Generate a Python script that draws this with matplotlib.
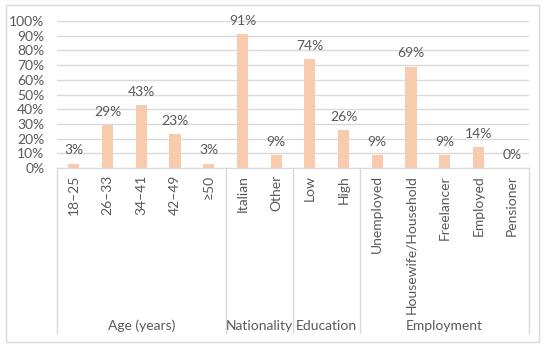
import matplotlib
matplotlib.use("Agg")
import matplotlib.pyplot as plt
from matplotlib.patches import Rectangle
import matplotlib.transforms as mtransforms

categories = ["18\u201325", "26\u201333", "34\u201341", "42\u201349", "\u226550",
              "Italian", "Other",
              "Low", "High",
              "Unemployed", "Housewife/Household", "Freelancer", "Employed", "Pensioner"]
values = [3, 29, 43, 23, 3, 91, 9, 74, 26, 9, 69, 9, 14, 0]
groups = ["Age (years)", "Nationality", "Education", "Employment"]
group_sizes = [5, 2, 2, 5]

plt.rcParams['font.family'] = ['Lato', 'DejaVu Sans']
TXT = "#595959"
GRID = "#D9D9D9"
BAR = "#F8CBAD"
FS = 10

W, H = 550, 346
fig = plt.figure(figsize=(W / 100, H / 100), dpi=100)
fig.patches.append(Rectangle((6 / W, 1 - 342 / H), 533 / W, 337 / H, transform=fig.transFigure,
                             facecolor="white", edgecolor=GRID, linewidth=1.0, zorder=-1))

x0, x1, ytop, ybot = 57, 529, 21, 168
ax = fig.add_axes([x0 / W, 1 - ybot / H, (x1 - x0) / W, (ybot - ytop) / H])
ax.patch.set_alpha(0)

xs = list(range(len(categories)))
fracs = [v / 100 for v in values]
ax.bar(xs, fracs, width=0.33, color=BAR, zorder=2)
for x, f, v in zip(xs, fracs, values):
    ax.annotate(f"{v}%", (x, f), xytext=(0, 9.5), textcoords="offset points",
                ha="center", va="center", fontsize=FS, color=TXT)

ax.set_xlim(-0.5, len(categories) - 0.5)
ax.set_ylim(0, 1)
ax.set_yticks([i / 10 for i in range(11)])
ax.set_yticklabels([f"{i * 10}%" for i in range(11)])
ax.yaxis.grid(True, color=GRID, linewidth=1.0, zorder=0)
ax.set_axisbelow(True)
for s in ["top", "right", "left"]:
    ax.spines[s].set_visible(False)
ax.spines["bottom"].set_color(GRID)
ax.tick_params(axis="y", length=0, pad=9, labelsize=FS, labelcolor=TXT)
ax.set_xticks(xs)
ax.set_xticklabels(categories, rotation=90, va="top")
ax.tick_params(axis="x", length=0, pad=5, labelsize=FS, labelcolor=TXT)

trans = mtransforms.blended_transform_factory(ax.transData, ax.transAxes)
ylow = -(333 - ybot) / (ybot - ytop)
ylab = -(326 - ybot) / (ybot - ytop)
bounds = [-0.5]
for g in group_sizes:
    bounds.append(bounds[-1] + g)
for b in bounds:
    ax.plot([b, b], [0, ylow], transform=trans, color=GRID, linewidth=1.0, clip_on=False)
for g, a, b in zip(groups, bounds[:-1], bounds[1:]):
    ax.text((a + b) / 2, ylab, g, transform=trans, ha="center", va="center",
            fontsize=FS, color=TXT)

fig.savefig("out.png", dpi=100)
